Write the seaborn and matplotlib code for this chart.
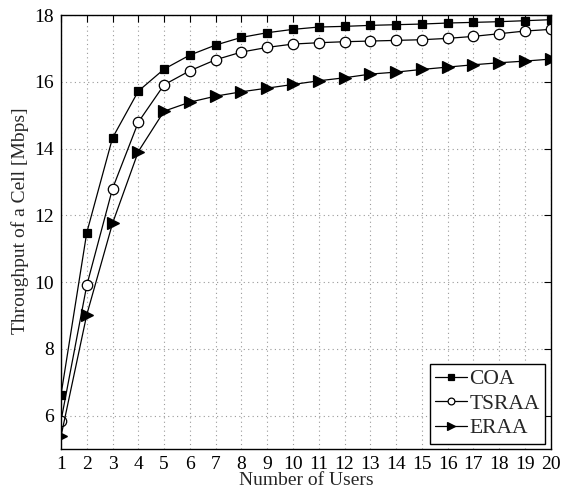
import numpy as np
import pandas as pd
import matplotlib
matplotlib.use("Agg")
import matplotlib.pyplot as plt
import seaborn as sns

# Cell throughput versus number of users for three allocation schemes
users = list(range(1, 21))
coa = [6.62, 11.48, 14.32, 15.72, 16.38, 16.80, 17.10, 17.33, 17.47, 17.57,
       17.64, 17.66, 17.69, 17.71, 17.73, 17.76, 17.78, 17.80, 17.83, 17.86]
tsraa = [5.84, 9.90, 12.80, 14.79, 15.91, 16.33, 16.66, 16.89, 17.03, 17.13,
         17.17, 17.20, 17.22, 17.24, 17.26, 17.30, 17.36, 17.44, 17.52, 17.57]
eraa = [5.38, 9.02, 11.76, 13.91, 15.12, 15.39, 15.57, 15.70, 15.81, 15.92,
        16.03, 16.12, 16.23, 16.29, 16.37, 16.44, 16.51, 16.57, 16.62, 16.68]
series_names = ["COA", "TSRAA", "ERAA"]
x_label = "Number of Users"
y_label = "Throughput of a Cell [Mbps]"
y_ticks = [6, 8, 10, 12, 14, 16, 18]

sns.set_style("white")
plt.rcParams["font.family"] = ["Liberation Serif", "DejaVu Serif"]
plt.rcParams["mathtext.fontset"] = "stix"

fig = plt.figure(figsize=(5.62, 4.94), dpi=100)
ax = fig.add_axes([0.1085, 0.0911, 0.8715, 0.8785])

styles = [
    dict(marker="s", markersize=6, markerfacecolor="black", markeredgecolor="black"),
    dict(marker="o", markersize=7.5, markerfacecolor="white", markeredgecolor="black"),
    dict(marker=">", markersize=8, markerfacecolor="black", markeredgecolor="black"),
]
for name, vals, st in zip(series_names, [coa, tsraa, eraa], styles):
    sns.lineplot(x=users, y=vals, ax=ax, color="black", linewidth=0.9,
                 label=name, markeredgewidth=0.9, **st)

ax.set_xlim(1, 20)
ax.set_ylim(5, 18)
ax.set_xticks(users)
ax.set_xticklabels([str(u) for u in users])
ax.set_yticks(y_ticks)
ax.set_yticklabels([str(t) for t in y_ticks])

ax.grid(True, which="major", color="#9a9a9a", linestyle=(0, (1, 3)), linewidth=0.8)
ax.tick_params(direction="in", top=True, right=True, length=5, width=0.8,
               labelsize=14, pad=5, colors="black")
for sp in ax.spines.values():
    sp.set_visible(True)
    sp.set_color("black")
    sp.set_linewidth(1.0)

ax.set_xlabel(x_label, fontsize=14, labelpad=-1)
ax.set_ylabel(y_label, fontsize=14)
ax.yaxis.set_label_coords(-0.066, 0.525)

leg = ax.legend(loc="lower right", fontsize=15.5, frameon=True, fancybox=False,
                edgecolor="black", framealpha=1, borderaxespad=0.25,
                handlelength=1.5, handletextpad=0.1, borderpad=0.25,
                labelspacing=0.2, markerscale=0.65)
leg.get_frame().set_linewidth(1.0)

fig.savefig("out.png", dpi=100)
